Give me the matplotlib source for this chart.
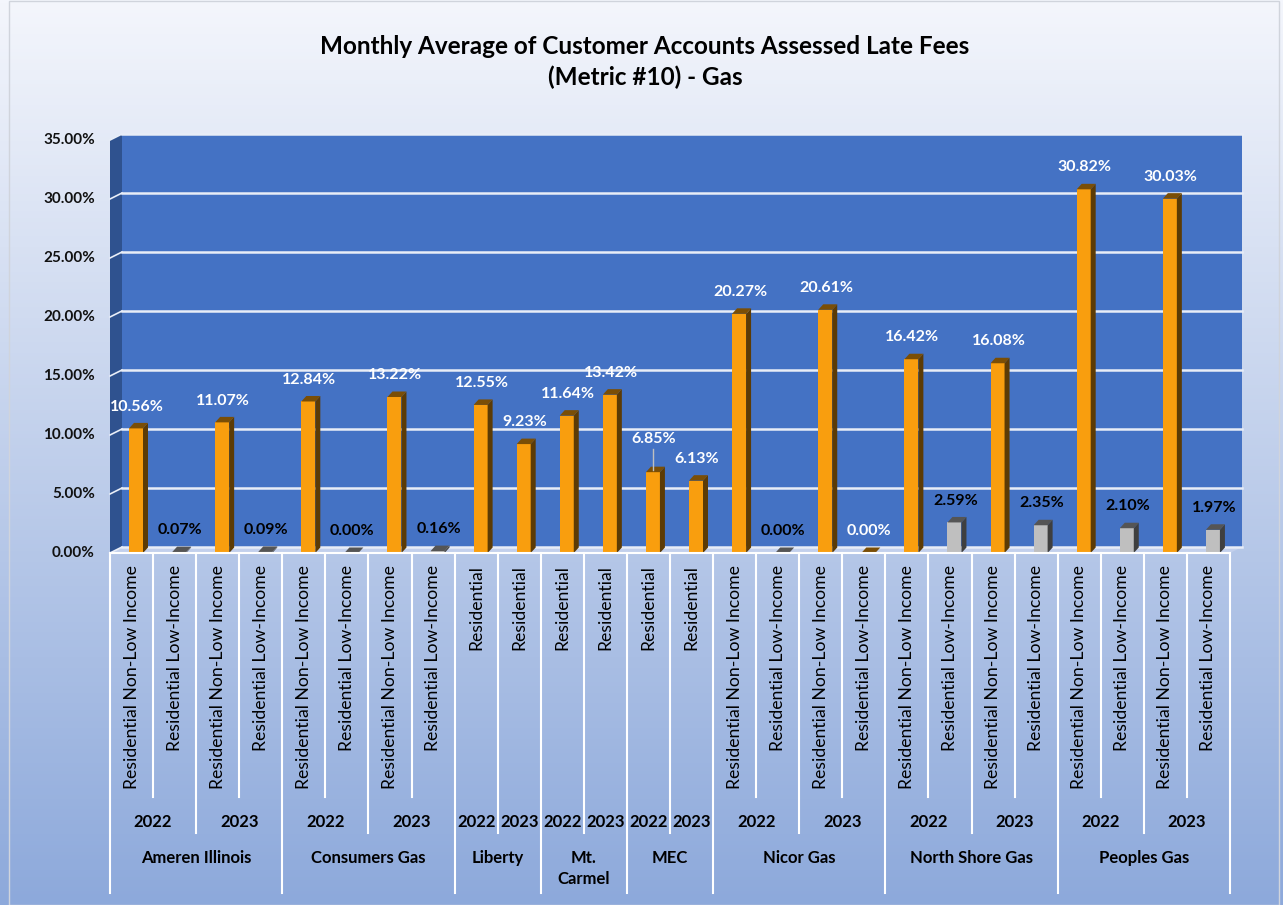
import numpy as np
import matplotlib.pyplot as plt
from matplotlib.patches import Polygon, Rectangle

plt.rcParams['font.family'] = ['Lato', 'DejaVu Sans']

# --- data ---
companies = ['Ameren Illinois', 'Consumers Gas', 'Liberty', 'Mt.\nCarmel', 'MEC',
             'Nicor Gas', 'North Shore Gas', 'Peoples Gas']
company_sizes = [4, 4, 2, 2, 2, 4, 4, 4]
years = ['2022', '2023'] * 8
year_sizes = [2, 2, 2, 2, 1, 1, 1, 1, 1, 1, 2, 2, 2, 2, 2, 2]
NL, LI, R = 'Residential Non-Low Income', 'Residential Low-Income', 'Residential'
categories = [NL, LI, NL, LI, NL, LI, NL, LI, R, R, R, R, R, R,
              NL, LI, NL, LI, NL, LI, NL, LI, NL, LI, NL, LI]
values = [10.56, 0.07, 11.07, 0.09, 12.84, 0.00, 13.22, 0.16, 12.55, 9.23,
          11.64, 13.42, 6.85, 6.13, 20.27, 0.00, 20.61, 0.00, 16.42, 2.59,
          16.08, 2.35, 30.82, 2.10, 30.03, 1.97]
# which series each bar belongs to (the Nicor 2023 low-income zero shows in the main colour)
series = ['low' if c == LI else 'main' for c in categories]
series[17] = 'main'
yticks = [0, 5, 10, 15, 20, 25, 30, 35]

title = 'Monthly Average of Customer Accounts Assessed Late Fees\n(Metric #10) - Gas'

# --- colours ---
face = {'main': '#F99E0E', 'low': '#BFBFBF'}
side = {'main': '#5C3B05', 'low': '#3F3F3F'}
top = {'main': '#7A4E06', 'low': '#555555'}
label_col = {'main': 'white', 'low': 'black'}

W, H = 1283, 905
fig = plt.figure(figsize=(W / 100, H / 100), dpi=100)

# background gradient
bg = fig.add_axes([0, 0, 1, 1], zorder=-5)
c_top = np.array([244, 246, 252]) / 255
c_bot = np.array([141, 169, 219]) / 255
t = np.linspace(0, 1, 256)[:, None]
grad = (c_top * (1 - t) + c_bot * t)[:, None, :]
bg.imshow(grad, aspect='auto', extent=[0, 1, 0, 1])
bg.add_patch(Rectangle((0.007, 0.0), 0.99, 0.999, fill=False, ec='#D0D4DC', lw=1,
                       transform=bg.transAxes))
bg.set_xlim(0, 1)
bg.set_ylim(0, 1)
bg.axis('off')

# plot area (front plane): x 110..1230 px, y 553..140 px
n = len(categories)
ymax = 35
ax = fig.add_axes([110 / W, (H - 553) / H, 1120 / W, 413 / H])
ax.set_xlim(0, n)
ax.set_ylim(0, ymax)
ax.axis('off')

px = 1120 / n
py = 413 / ymax


def dx(p):
    return p / px


def dy(p):
    return p / py


def ypix(p):
    # pixel row (from top of image) -> data y
    return (553 - p) / py


WX, WY = dx(12), dy(6)

# walls and floor
ax.add_patch(Rectangle((WX, WY), n, ymax, fc='#4472C4', ec='none', clip_on=False, zorder=0))
ax.add_patch(Polygon([(0, 0), (WX, WY), (WX, ymax + WY), (0, ymax)], closed=True,
                     fc='#2F528F', ec='none', clip_on=False, zorder=0))
ax.add_patch(Polygon([(0, 0), (n, 0), (n + WX, WY), (WX, WY)], closed=True,
                     fc='#C3D0EC', ec='none', clip_on=False, zorder=0))
for v in yticks:
    ax.plot([WX, n + WX], [v + WY, v + WY], color='#E8EDF7', lw=1.8, clip_on=False, zorder=1)
    ax.plot([0, WX], [v, v + WY], color='#E8EDF7', lw=1.2, clip_on=False, zorder=1)
    ax.text(-dx(15), v, f'{v:.2f}%', ha='right', va='center', fontsize=11,
            fontweight='bold', color='#111111')

# bars
bw, bx, by = dx(14), dx(5), dy(5.5)
for i, (v, s) in enumerate(zip(values, series)):
    x0 = i + dx(19)
    ax.add_patch(Rectangle((x0, 0), bw, v, fc=face[s], ec='none', zorder=3, clip_on=False))
    ax.add_patch(Polygon([(x0 + bw, 0), (x0 + bw + bx, by), (x0 + bw + bx, v + by), (x0 + bw, v)],
                         closed=True, fc=side[s], ec='none', zorder=3, clip_on=False))
    ax.add_patch(Polygon([(x0, v), (x0 + bw, v), (x0 + bw + bx, v + by), (x0 + bx, v + by)],
                         closed=True, fc=top[s], ec='none', zorder=3, clip_on=False))
    cx = x0 + bw / 2 + dx(1)
    lift = 1.85
    if v == 6.85:
        lift = 2.8
        ax.plot([cx - dx(1), cx - dx(1)], [v + dy(2), v + lift - dy(10)], color='#BFBFBF',
                lw=1, zorder=4)
    ax.text(cx, v + lift, f'{v:.2f}%', ha='center', va='center', fontsize=11.5,
            fontweight='bold', color=label_col[s], zorder=5)

# category axis
ax.plot([0, n], [0, 0], color='white', lw=1.5, clip_on=False, zorder=4)
comp_edges = np.cumsum([0] + company_sizes)
year_edges = np.cumsum([0] + year_sizes)
for b in range(n + 1):
    if b in comp_edges:
        end = 893
    elif b in year_edges:
        end = 833
    else:
        end = 797
    ax.plot([b, b], [0, ypix(end)], color='white', lw=1.5, clip_on=False, zorder=4)

for i, c in enumerate(categories):
    ax.text(i + 0.5, ypix(565), c, rotation=90, ha='center', va='top', fontsize=12.7,
            color='black')

for k, yr in enumerate(years):
    mid = (year_edges[k] + year_edges[k + 1]) / 2
    ax.text(mid, ypix(822), yr, ha='center', va='center', fontsize=12, fontweight='bold')

for k, comp in enumerate(companies):
    mid = (comp_edges[k] + comp_edges[k + 1]) / 2
    ax.text(mid, ypix(850), comp, ha='center', va='top', fontsize=12, fontweight='bold',
            linespacing=1.35)

fig.text(645 / W, 1 - 62 / H, title, ha='center', va='center', fontsize=17.5,
         fontweight='bold', linespacing=1.4)

fig.savefig('out.png', dpi=100)
